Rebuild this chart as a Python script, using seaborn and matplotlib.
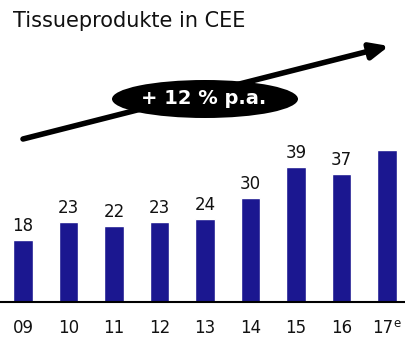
import matplotlib
matplotlib.use("Agg")
import matplotlib.pyplot as plt
from matplotlib.patches import Ellipse
import seaborn as sns
import pandas as pd

years = ["09", "10", "11", "12", "13", "14", "15", "16", "17"]
values = [18, 23, 22, 23, 24, 30, 39, 37, 44]
labeled = [True, True, True, True, True, True, True, True, False]
title = "Tissueprodukte in CEE"
growth_text = "+ 12 % p.a."

sns.set_theme(style="white")
plt.rcParams["font.family"] = ["DejaVu Sans"]

W, H = 406, 344
fig = plt.figure(figsize=(W / 100, H / 100), dpi=100)
base_px = 302
ax = fig.add_axes([0, (H - base_px) / H, 1, base_px / H])

df = pd.DataFrame({"year": years, "value": values})
sns.barplot(data=df, x="year", y="value", order=years, color="#1b1790",
            saturation=1, width=0.42, ax=ax)

ax.set_xlim(-0.505, 8.418)
ax.set_ylim(0, 87.3)
for s in ["top", "right", "left"]:
    ax.spines[s].set_visible(False)
ax.spines["bottom"].set_color("black")
ax.spines["bottom"].set_linewidth(1.5)
ax.set_yticks([])
ax.set_xlabel("")
ax.set_ylabel("")
ax.tick_params(axis="x", length=0, pad=12, labelsize=12, colors="#111111")
# the estimate year gets its own label with a superscript marker
ax.set_xticklabels(years[:-1] + [""])
ax.text(len(years) - 1 - 0.09, -7.4, years[-1], ha="center", va="center",
        fontsize=12, color="#111111", clip_on=False)
ax.text(len(years) - 1 + 0.15, -6.3, "e", ha="left", va="center",
        fontsize=8.5, color="#111111", clip_on=False)

for i, (v, show) in enumerate(zip(values, labeled)):
    if show:
        ax.text(i, v + 1.5, str(v), ha="center", va="bottom", fontsize=12,
                color="#111111")

fig.text(13 / W, 1 - 21 / H, title, ha="left", va="center", fontsize=15,
         color="#111111")

# growth trend arrow with rate badge
fig_ax = fig.add_axes([0, 0, 1, 1], facecolor="none")
fig_ax.set_xlim(0, W)
fig_ax.set_ylim(H, 0)
fig_ax.axis("off")
fig_ax.annotate("", xy=(389, 46), xytext=(23, 139),
                arrowprops=dict(arrowstyle="-|>,head_length=0.9,head_width=0.4",
                                lw=4, color="black", shrinkA=0, shrinkB=0))
fig_ax.add_patch(Ellipse((205, 99), 186, 38, facecolor="black", edgecolor="none"))
fig_ax.text(204, 99, growth_text, ha="center", va="center", fontsize=14,
            fontweight="bold", color="white")

fig.savefig("out.png", dpi=100)
